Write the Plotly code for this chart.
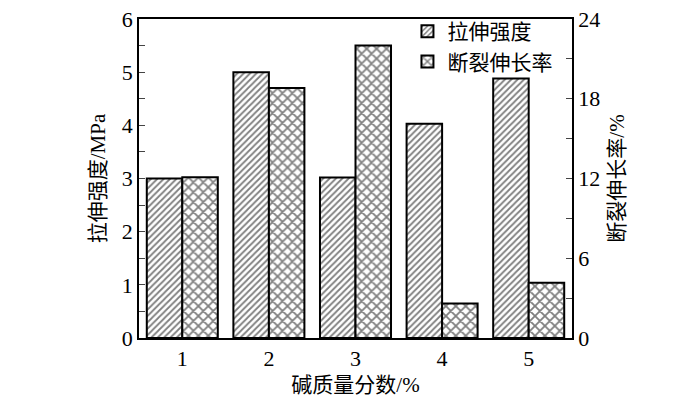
import plotly.graph_objects as go

categories = [1, 2, 3, 4, 5]
tensile_strength = [3.0, 5.0, 3.02, 4.03, 4.88]
elongation = [12.1, 18.8, 22.0, 2.6, 4.15]
name_ts = "拉伸强度"
name_el = "断裂伸长率"

FONT = "Liberation Serif, Times New Roman, Noto Sans CJK SC, serif"

fig = go.Figure()
fig.add_trace(go.Bar(
    x=categories, y=tensile_strength, name=name_ts, yaxis="y", offsetgroup="1",
    marker=dict(color="white", line=dict(color="black", width=2),
                pattern=dict(shape="/", size=4.5, solidity=0.4, fgcolor="black", bgcolor="white")),
))
fig.add_trace(go.Bar(
    x=categories, y=elongation, name=name_el, yaxis="y2", offsetgroup="2",
    marker=dict(color="white", line=dict(color="black", width=2),
                pattern=dict(shape="x", size=7, solidity=0.45, fgcolor="black", bgcolor="white")),
))

fig.update_layout(
    width=700, height=397,
    margin=dict(l=139, r=128, t=19, b=59, autoexpand=False),
    paper_bgcolor="white", plot_bgcolor="white",
    barmode="group", bargap=0.18, bargroupgap=0,
    font=dict(family=FONT, size=22, color="black"),
    showlegend=True,
    legend=dict(x=0.62, y=1.025, xanchor="left", yanchor="top",
                bgcolor="rgba(0,0,0,0)", font=dict(size=21, family=FONT),
                tracegroupgap=0, itemsizing="constant"),
    xaxis=dict(range=[0.5, 5.5], tickvals=categories, ticks="", automargin=False,
               showline=True, linecolor="black", linewidth=1.5, mirror=True,
               showgrid=False, zeroline=False,
               title=dict(text="碱质量分数/%", font=dict(size=21), standoff=10),
               tickfont=dict(size=22)),
    yaxis=dict(range=[0, 6], dtick=1, ticks="inside", ticklen=6, tickwidth=1, automargin=False,
               minor=dict(dtick=0.5, ticks="inside", ticklen=6, tickwidth=1),
               showline=True, linecolor="black", linewidth=1.5,
               showgrid=False, zeroline=False,
               title=dict(text="拉伸强度/MPa", font=dict(size=21), standoff=10),
               tickfont=dict(size=22)),
    yaxis2=dict(range=[0, 24], dtick=6, overlaying="y", side="right", automargin=False,
                ticks="inside", ticklen=6, tickwidth=1,
                minor=dict(dtick=3, ticks="inside", ticklen=6, tickwidth=1),
                showline=True, linecolor="black", linewidth=1.5,
                showgrid=False, zeroline=False,
                title=dict(text="断裂伸长率/%", font=dict(size=21), standoff=10),
                tickfont=dict(size=22)),
)

fig.write_html("out.html", config={"displayModeBar": False},
               post_script="document.body.style.margin='0';")
